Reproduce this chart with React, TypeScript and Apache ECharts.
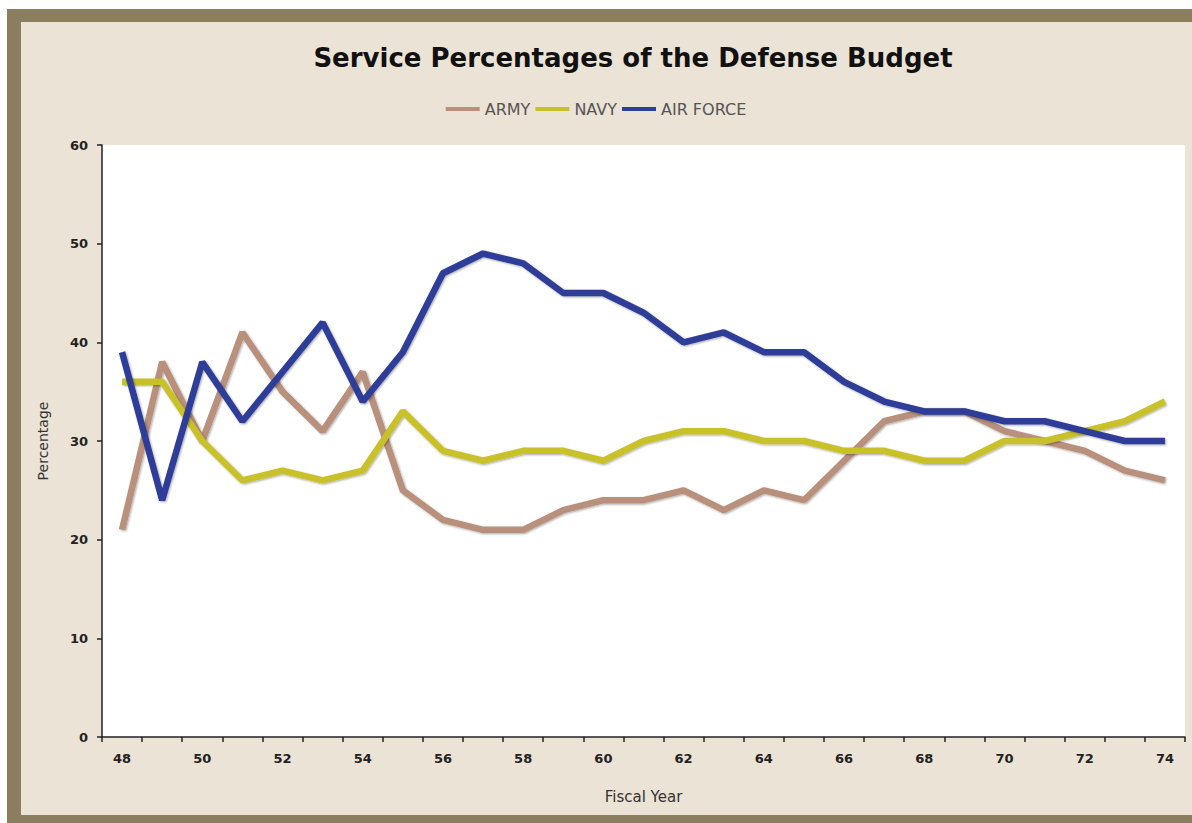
import React, { useEffect, useRef } from "react";
import * as echarts from "echarts";

const years = ["48","49","50","51","52","53","54","55","56","57","58","59","60","61","62","63","64","65","66","67","68","69","70","71","72","73","74"];
const army = [21, 38, 30, 41, 35, 31, 37, 25, 22, 21, 21, 23, 24, 24, 25, 23, 25, 24, 28, 32, 33, 33, 31, 30, 29, 27, 26];
const navy = [36, 36, 30, 26, 27, 26, 27, 33, 29, 28, 29, 29, 28, 30, 31, 31, 30, 30, 29, 29, 28, 28, 30, 30, 31, 32, 34];
const airForce = [39, 24, 38, 32, 37, 42, 34, 39, 47, 49, 48, 45, 45, 43, 40, 41, 39, 39, 36, 34, 33, 33, 32, 32, 31, 30, 30];

const FONT = "'DejaVu Sans', Verdana, sans-serif";

export default function App() {
  const ref = useRef<HTMLDivElement>(null);
  useEffect(() => {
    if (!ref.current) return;
    const chart = echarts.init(ref.current, null, { renderer: "svg" });
    const mk = (name: string, data: number[], color: string) => ({
      name,
      type: "line",
      data,
      symbol: "none",
      color,
      lineStyle: {
        width: 6.5,
        color,
        shadowColor: "rgba(0,0,0,0.35)",
        shadowBlur: 2,
        shadowOffsetX: 1,
        shadowOffsetY: 1,
      },
    });
    chart.setOption({
      animation: false,
      title: {
        text: "Service Percentages of the Defense Budget",
        left: 628,
        textAlign: "center",
        top: 40,
        textStyle: { fontFamily: FONT, fontWeight: "bold", fontSize: 26, color: "#111" },
      },
      legend: {
        top: 96,
        left: "center",
        itemWidth: 34,
        itemHeight: 4,
        itemGap: 5,
        icon: "rect",
        textStyle: { fontFamily: FONT, fontSize: 16, color: "#555" },
        data: ["ARMY", "NAVY", "AIR FORCE"],
      },
      grid: {
        left: 102,
        right: 7,
        top: 145,
        bottom: 86,
        show: true,
        backgroundColor: "#ffffff",
        borderWidth: 0,
      },
      xAxis: {
        type: "category",
        data: years,
        boundaryGap: true,
        name: "Fiscal Year",
        nameLocation: "middle",
        nameGap: 52,
        nameTextStyle: { fontFamily: FONT, fontSize: 15, color: "#333" },
        axisLine: { lineStyle: { color: "#222", width: 1.5 } },
        axisTick: { show: true, interval: 0, length: 5, inside: false, lineStyle: { color: "#222", width: 1.5 } },
        axisLabel: { interval: 1, margin: 15, fontFamily: FONT, fontWeight: "bold", fontSize: 13, color: "#222" },
        splitLine: { show: false },
      },
      yAxis: {
        type: "value",
        min: 0,
        max: 60,
        interval: 10,
        name: "Percentage",
        nameLocation: "middle",
        nameGap: 52,
        nameRotate: 90,
        nameTextStyle: { fontFamily: FONT, fontSize: 14, color: "#333" },
        axisLine: { show: true, lineStyle: { color: "#222", width: 1.5 } },
        axisTick: { show: true, length: 5, lineStyle: { color: "#222", width: 1.5 } },
        axisLabel: { margin: 14, fontFamily: FONT, fontWeight: "bold", fontSize: 13, color: "#222" },
        splitLine: { show: false },
      },
      series: [
        mk("ARMY", army, "#b8907b"),
        mk("NAVY", navy, "#c9c12a"),
        mk("AIR FORCE", airForce, "#2f3e98"),
      ],
    });
    return () => chart.dispose();
  }, []);

  return (
    <div style={{ position: "fixed", left: 0, top: 0, width: 1192, height: 823, background: "#ffffff", overflow: "hidden" }}>
      <div
        style={{
          position: "absolute",
          left: 7,
          top: 9,
          right: -20,
          bottom: 0,
          background: "#ebe3d6",
          borderTop: "13px solid #8a7e5e",
          borderLeft: "14px solid #8a7e5e",
          borderBottom: "8px solid #8a7e5e",
          boxSizing: "border-box",
        }}
      />
      <div ref={ref} style={{ position: "absolute", left: 0, top: 0, width: 1192, height: 823 }} />
    </div>
  );
}
